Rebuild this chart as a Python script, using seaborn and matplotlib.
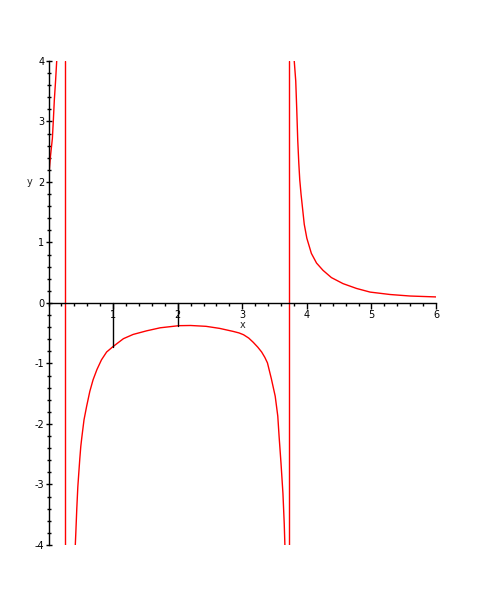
import numpy as np
import pandas as pd
import matplotlib
matplotlib.use("Agg")
import matplotlib.pyplot as plt
from matplotlib.ticker import MultipleLocator, FixedLocator
import seaborn as sns

# Left branch (x < first asymptote)
left_x = [0.0, 0.01, 0.03, 0.06, 0.075, 0.09, 0.11, 0.127]
left_y = [2.08, 2.16, 2.42, 2.72, 3.02, 3.35, 3.68, 4.0]

# Middle branch (between the asymptotes)
mid_x = [0.415, 0.423, 0.438, 0.454, 0.469, 0.485, 0.50, 0.515, 0.53, 0.55, 0.59, 0.64,
         0.69, 0.75, 0.82, 0.90, 1.0, 1.16, 1.31, 1.52, 1.73, 2.02, 2.2, 2.44, 2.65,
         2.86, 2.95, 3.02, 3.10, 3.17, 3.24, 3.30, 3.35, 3.39, 3.45, 3.51, 3.55, 3.57,
         3.60, 3.63, 3.65, 3.66]
mid_y = [-4.0, -3.80, -3.40, -3.04, -2.81, -2.57, -2.37, -2.23, -2.10, -1.93, -1.71, -1.46,
         -1.27, -1.10, -0.94, -0.81, -0.72, -0.59, -0.52, -0.46, -0.41, -0.375, -0.372, -0.386, -0.42,
         -0.47, -0.495, -0.525, -0.58, -0.65, -0.73, -0.81, -0.90, -0.99, -1.25, -1.54, -1.87, -2.20,
         -2.65, -3.15, -3.65, -4.0]

# Right branch (x > second asymptote)
right_x = [3.805, 3.828, 3.844, 3.859, 3.875, 3.89, 3.91, 3.935, 3.96, 4.0, 4.07, 4.15,
           4.25, 4.38, 4.56, 4.77, 4.98, 5.29, 5.60, 6.0]
right_y = [4.0, 3.67, 3.19, 2.69, 2.32, 2.04, 1.80, 1.55, 1.30, 1.07, 0.82, 0.66,
           0.54, 0.42, 0.32, 0.24, 0.18, 0.14, 0.115, 0.10]

# Vertical asymptotes
asymptotes = [0.26, 3.73]

# Black marker segments from axis to curve
marker_x = [1.0, 2.0]
marker_y = [-0.72, -0.375]

x_ticks = [1, 2, 3, 4, 5, 6]
y_ticks = [-4, -3, -2, -1, 0, 1, 2, 3, 4]

sns.set_style("white")
plt.rcParams['font.family'] = ['DejaVu Sans']

fig = plt.figure(figsize=(4.85, 6.05), dpi=100)
ax = fig.add_axes([0.1, 0.0992, 0.799, 0.8])

red = "#ff0000"
for bx, by in [(left_x, left_y), (mid_x, mid_y), (right_x, right_y)]:
    df = pd.DataFrame({"x": bx, "y": by})
    sns.lineplot(data=df, x="x", y="y", sort=False, color=red, linewidth=1.0, ax=ax)

for a in asymptotes:
    ax.plot([a, a], [-4, 4], color=red, linewidth=1.0)

for mx, my in zip(marker_x, marker_y):
    ax.plot([mx, mx], [0, my], color="black", linewidth=1.0)

ax.set_xlim(0, 6)
ax.set_ylim(-4, 4)

for s in ["top", "right"]:
    ax.spines[s].set_visible(False)
ax.spines["left"].set_position(("data", 0))
ax.spines["bottom"].set_position(("data", 0))
for s in ["left", "bottom"]:
    ax.spines[s].set_color("black")
    ax.spines[s].set_linewidth(1.0)

ax.xaxis.set_major_locator(FixedLocator(x_ticks))
ax.xaxis.set_minor_locator(MultipleLocator(0.2))
ax.yaxis.set_major_locator(FixedLocator(y_ticks))
ax.yaxis.set_minor_locator(MultipleLocator(0.2))
ax.set_xticklabels([str(t) for t in x_ticks])
ax.set_yticklabels([str(t) for t in y_ticks])

ax.tick_params(axis="x", which="both", bottom=True, top=False)
ax.tick_params(axis="y", which="both", left=True, right=False)
ax.tick_params(axis="x", which="major", direction="out", length=4, width=1, labelsize=7, pad=1, colors="black")
ax.tick_params(axis="x", which="minor", direction="out", length=2.5, width=1, colors="black")
ax.tick_params(axis="y", which="major", direction="inout", length=5, width=1, labelsize=7, pad=0.5, colors="black")
ax.tick_params(axis="y", which="minor", direction="inout", length=3, width=1, colors="black")

ax.set_xlabel("")
ax.set_ylabel("")
ax.text(3.0, -0.36, "x", fontsize=7, ha="center", va="center", transform=ax.transData)
ax.text(-0.29, 2.0, "y", fontsize=7, ha="center", va="center", transform=ax.transData)
ax.grid(False)

fig.savefig("out.png", dpi=100, facecolor="white")
